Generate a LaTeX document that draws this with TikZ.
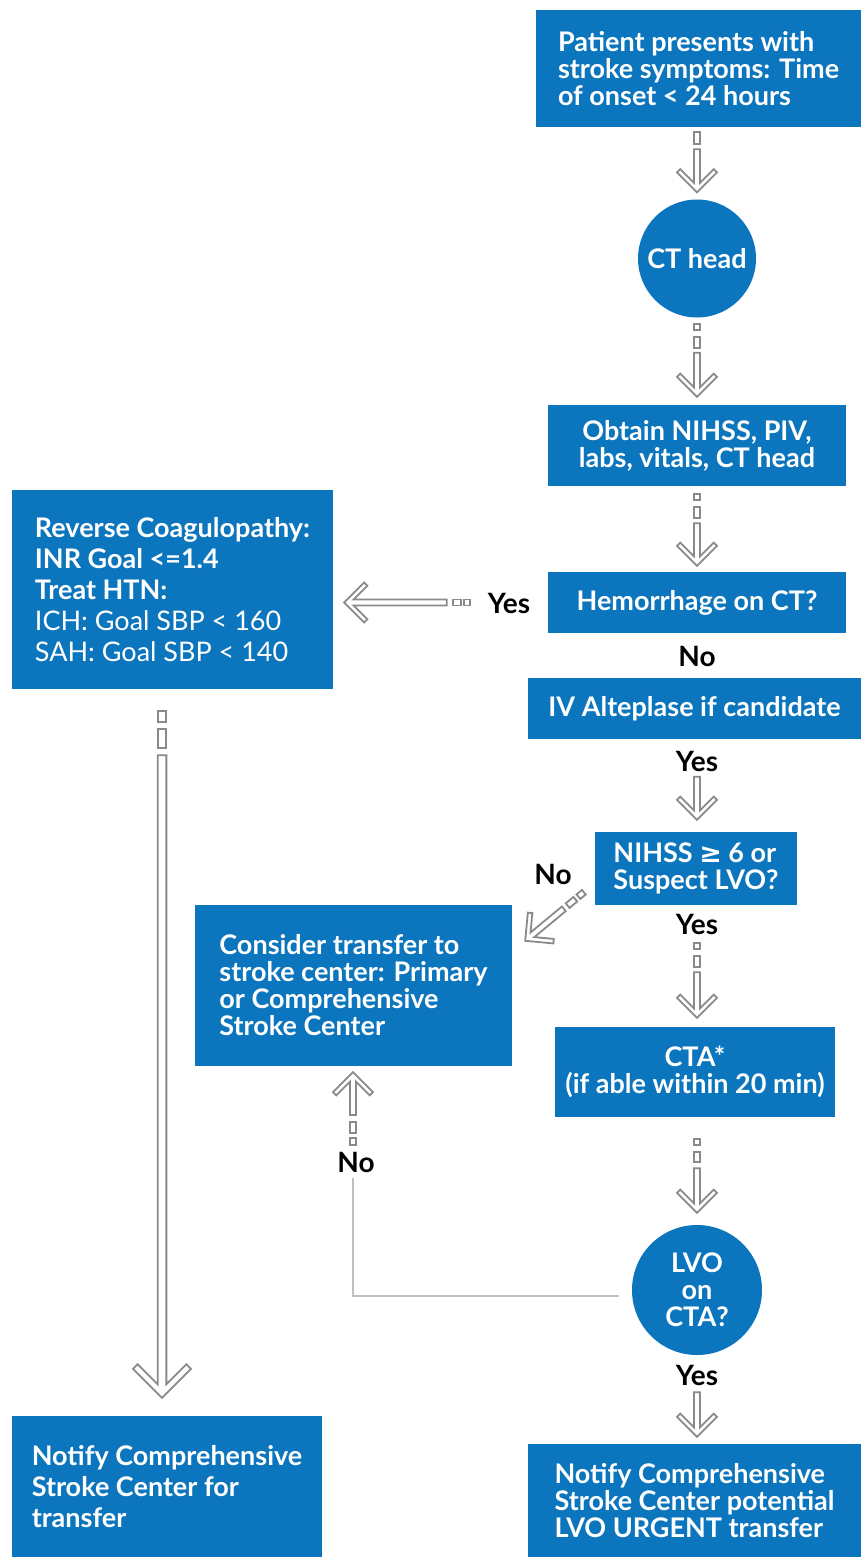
\documentclass[tikz,border=0pt]{standalone}
\usepackage{fontspec}
\setmainfont{Lato}
\newfontfamily\symfont{DejaVu Sans}
\usetikzlibrary{calc}
\definecolor{boxblue}{RGB}{11,117,189}
\definecolor{arrgray}{RGB}{138,138,140}
\definecolor{linegray}{RGB}{192,192,192}
\tikzset{
  harrowline/.style={draw=arrgray,line width=1.8pt,line join=miter,fill=white},
  greyline/.style={draw=linegray,line width=2.2pt},
  bluebox/.style={fill=boxblue,text=white,inner sep=0pt,align=left,
    font=\bfseries\fontsize{27}{27}\selectfont},
  bluecbox/.style={bluebox,align=center},
  bigbox/.style={bluebox,font=\bfseries\fontsize{27}{31}\selectfont},
  bluecirc/.style={circle,fill=boxblue,text=white,inner sep=0pt,align=center,
    font=\bfseries\fontsize{27}{27}\selectfont},
  lbl/.style={text=black,inner sep=0pt,font=\bfseries\fontsize{28}{30}\selectfont}
}
\newcommand\harrow[4]{%
  \pgfmathsetmacro\hH{3*#4}%
  \pgfmathsetmacro\hJ{-9.4*#4}%
  \pgfmathsetmacro\hIa{-23.2*#4}%
  \pgfmathsetmacro\hIb{16.8*#4}%
  \pgfmathsetmacro\hW{20*#4}%
  \pgfmathsetmacro\hWn{-20*#4}%
  \draw[harrowline] let \p1=(#1), \p2=(#2), \n1={atan2(\y2-\y1,\x2-\x1)} in
    ($(#1)+(\n1:#3)+(\n1+90:\hH)$) -- ($(#2)+(\n1:\hJ)+(\n1+90:\hH)$)
    -- ($(#2)+(\n1:\hIa)+(\n1+90:\hIb)$) -- ($(#2)+(\n1:\hWn)+(\n1+90:\hW)$)
    -- (#2) -- ($(#2)+(\n1:\hWn)+(\n1-90:\hW)$) -- ($(#2)+(\n1:\hIa)+(\n1-90:\hIb)$)
    -- ($(#2)+(\n1:\hJ)+(\n1-90:\hH)$) -- ($(#1)+(\n1:#3)+(\n1-90:\hH)$) -- cycle;
}
\newcommand\hdash[5]{%
  \pgfmathsetmacro\hH{3*#5}%
  \draw[harrowline] let \p1=(#1), \p2=(#2), \n1={atan2(\y2-\y1,\x2-\x1)} in
    ($(#1)+(\n1:#3)+(\n1+90:\hH)$) -- ($(#1)+(\n1:#4)+(\n1+90:\hH)$)
    -- ($(#1)+(\n1:#4)+(\n1-90:\hH)$) -- ($(#1)+(\n1:#3)+(\n1-90:\hH)$) -- cycle;
}
\begin{document}
\begin{tikzpicture}[x=1pt,y=1pt]
\useasboundingbox[fill=white] (0,0) rectangle (861,-1557);

% boxes
\node[bluebox,minimum width=325,minimum height=117] (top) at (698.5,-68.5)
  {Patient presents with\\stroke symptoms: Time\\of onset < 24 hours};
\node[bluecirc,minimum size=118] (ct) at (697,-258.5) {CT head};
\node[bluecbox,minimum width=298,minimum height=81] (obtain) at (697,-445.5)
  {Obtain NIHSS, PIV,\\labs, vitals, CT head};
\node[bluecbox,minimum width=298,minimum height=61] (hem) at (697,-602.5)
  {Hemorrhage on CT?};
\node[bluecbox,minimum width=333,minimum height=61] (alt) at (694.5,-708.5)
  {IV Alteplase if candidate};
\node[bluebox,minimum width=202,minimum height=73] (nihss) at (696,-868.5)
  {NIHSS {\symfont ≥} 6 or\\Suspect LVO?};
\node[bluebox,minimum width=317,minimum height=161] (consider) at (353.5,-985.5)
  {Consider transfer to\\stroke center: Primary\\or Comprehensive\\Stroke Center};
\node[bluecbox,minimum width=280,minimum height=90] (cta) at (695,-1072)
  {CTA*\\(if able within 20 min)};
\node[bluecirc,minimum size=130] (lvo) at (697,-1290) {LVO\\on\\CTA?};
\node[bluebox,minimum width=333,minimum height=113] (notR) at (694.5,-1500.5)
  {Notify Comprehensive\\Stroke Center potential\\LVO URGENT transfer};
\node[bigbox,minimum width=310,minimum height=141] (notL) at (167,-1486.5)
  {Notify Comprehensive\\Stroke Center for\\transfer};
\node[bigbox,minimum width=321,minimum height=199] (rev) at (172.5,-589.5)
  {Reverse Coagulopathy:\\INR Goal <=1.4\\Treat HTN:\\
   {\mdseries ICH: Goal SBP < 160}\\{\mdseries SAH: Goal SBP < 140}};

% labels
\node[lbl] (yesH) at (509,-603) {Yes};
\node[lbl] (noHem) at (697,-656) {No};
\node[lbl] (yesAlt) at (697,-761) {Yes};
\node[lbl] (noN) at (553,-874) {No};
\node[lbl] (yesN) at (697,-924) {Yes};
\node[lbl] (noLvo) at (356,-1162) {No};
\node[lbl] (yesLvo) at (697,-1375) {Yes};

% connector end coordinates
\coordinate (a1s) at ($(ct.north |- top.south)+(0,-5)$);
\coordinate (a1e) at ($(ct.north)+(0,7)$);
\coordinate (a2s) at ($(ct.south)+(0,-6)$);
\coordinate (a2e) at ($(ct.south |- obtain.north)+(0,8)$);
\coordinate (a3s) at ($(ct.south |- obtain.south)+(0,-8)$);
\coordinate (a3e) at ($(ct.south |- hem.north)+(0,6)$);
\coordinate (a4s) at ($(hem.west)+(-77,0)$);
\coordinate (a4e) at ($(rev.east |- hem.west)+(11,0)$);
\coordinate (a5s) at ($(ct.south |- nihss.north)+(0,55)$);
\coordinate (a5e) at ($(ct.south |- nihss.north)+(0,12)$);
\coordinate (a6s) at ($(nihss.south west)+(-11,13)$);
\coordinate (a6e) at ($(consider.north east)+(13,-36)$);
\coordinate (a7s) at ($(ct.south |- nihss.south)+(0,-38)$);
\coordinate (a7e) at ($(ct.south |- cta.north)+(0,9)$);
\coordinate (a8s) at ($(ct.south |- cta.south)+(0,-22)$);
\coordinate (a8e) at ($(lvo.north)+(0,12)$);
\coordinate (a9s) at ($(lvo.south)+(0,-37)$);
\coordinate (a9e) at ($(lvo.south |- notR.north)+(0,7)$);
\coordinate (a10s) at (353,-1145);
\coordinate (a10e) at ($(a10s |- consider.south)+(0,-6)$);
\coordinate (bend) at ($(a10s |- lvo.west)+(0,-6)$);
\coordinate (a10l) at (353,-1178);
\coordinate (a11s) at ($(rev.south)+(-10.5,-22)$);
\coordinate (a11e) at ($(a11s |- notL.north)+(0,18)$);

% connectors
\hdash{a1s}{a1e}{0}{12}{1}
\harrow{a1s}{a1e}{17}{1}

\hdash{a2s}{a2e}{0}{6}{1}
\hdash{a2s}{a2e}{13}{24}{1}
\harrow{a2s}{a2e}{29}{1}

\hdash{a3s}{a3e}{0}{6}{1}
\hdash{a3s}{a3e}{13}{24}{1}
\harrow{a3s}{a3e}{29}{1}

\hdash{a4s}{a4e}{1}{7}{1}
\hdash{a4s}{a4e}{10}{18}{1}
\harrow{a4s}{a4e}{24}{1}

\harrow{a5s}{a5e}{0}{1}

\hdash{a6s}{a6e}{0}{7}{1}
\hdash{a6s}{a6e}{11}{21}{1}
\harrow{a6s}{a6e}{26}{1}

\hdash{a7s}{a7e}{0}{6}{1}
\hdash{a7s}{a7e}{13}{24}{1}
\harrow{a7s}{a7e}{29}{1}

\hdash{a8s}{a8e}{0}{6}{1}
\hdash{a8s}{a8e}{13}{23}{1}
\harrow{a8s}{a8e}{29}{1}

\harrow{a9s}{a9e}{0}{1}

\hdash{a10s}{a10e}{0}{7}{1}
\hdash{a10s}{a10e}{12}{23}{1}
\harrow{a10s}{a10e}{30}{1}
\draw[greyline] ($(lvo.west)+(-13,-6)$) -- (bend) -- (a10l);

\hdash{a11s}{a11e}{0}{11}{1.45}
\hdash{a11s}{a11e}{18}{37}{1.45}
\harrow{a11s}{a11e}{44}{1.45}
\end{tikzpicture}
\end{document}
